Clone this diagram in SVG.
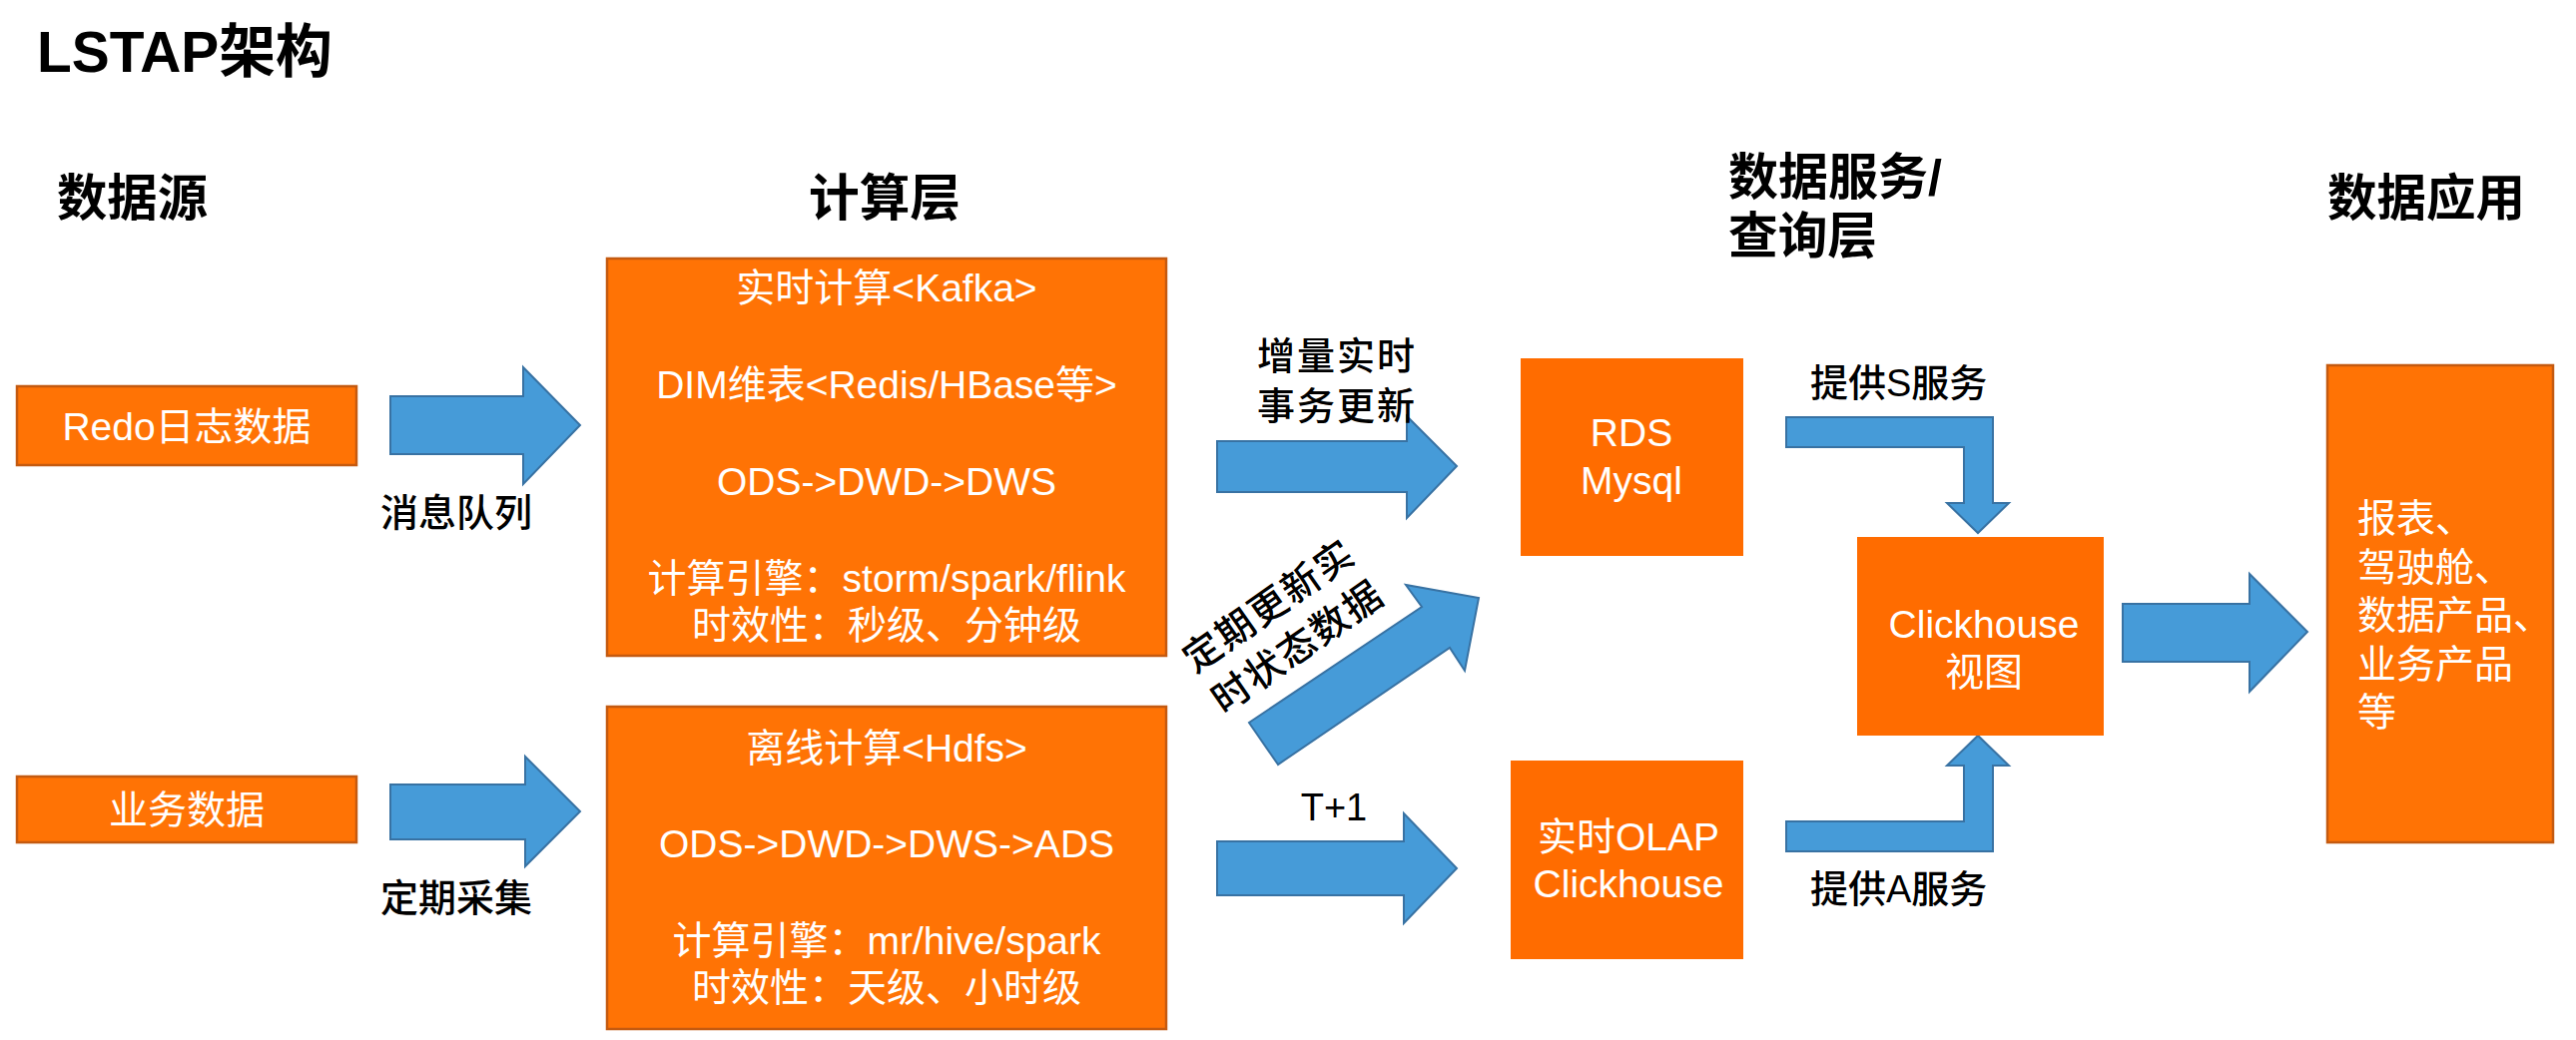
<svg xmlns="http://www.w3.org/2000/svg" width="2580" height="1042" viewBox="0 0 2580 1042">
<style>
.bx{fill:#FF7305;stroke:#C45A10;stroke-width:2.5}
.bx2{fill:#FF6C00}
.ar{fill:#469BD8;stroke:#3872A3;stroke-width:2;stroke-linejoin:miter}
.wt{fill:#fff;font-family:"Liberation Sans","Noto Sans CJK SC",sans-serif;font-size:39px}
.bl{fill:#000;font-family:"Liberation Sans","Noto Sans CJK SC",sans-serif;font-size:38px;font-weight:500}
.hd{fill:#000;font-family:"Liberation Sans","Noto Sans CJK SC",sans-serif;font-size:50px;font-weight:bold}
.c{text-anchor:middle}
</style>
<rect width="2580" height="1042" fill="#fff"/>
<text x="37" y="72" font-family="'Liberation Sans','Noto Sans CJK SC',sans-serif" font-weight="bold" font-size="58" textLength="296" lengthAdjust="spacingAndGlyphs">LSTAP架构</text>
<text class="hd" x="57" y="216" textLength="151" lengthAdjust="spacingAndGlyphs">数据源</text>
<text class="hd" x="810" y="216" textLength="152" lengthAdjust="spacingAndGlyphs">计算层</text>
<text class="hd" x="1731" y="195" textLength="214" lengthAdjust="spacingAndGlyphs">数据服务/</text>
<text class="hd" x="1731" y="254" textLength="149" lengthAdjust="spacingAndGlyphs">查询层</text>
<text class="hd" x="2331" y="216" textLength="198" lengthAdjust="spacingAndGlyphs">数据应用</text>

<g id="connectors">
<polygon class="ar" points="391,397 524,397 524,368 581,426 524,485 524,455 391,455"/>
<polygon class="ar" points="391,786 526,786 526,758 581,813 526,868 526,841 391,841"/>
<polygon class="ar" points="1219,442 1409,442 1409,417 1459,467 1409,519 1409,493 1219,493"/>
<polygon class="ar" points="1219,843 1406,843 1406,815 1459,870 1406,925 1406,897 1219,897"/>
<polygon class="ar" points="1280,766 1251,724 1424,608 1408,586 1481,599 1467,672 1452,649"/>
<polygon class="ar" points="1789,418 1996,418 1996,504 2012,504 1981,534 1950,504 1967,504 1967,448 1789,448"/>
<polygon class="ar" points="1789,853 1996,853 1996,767 2012,767 1981,737 1950,767 1967,767 1967,823 1789,823"/>
<polygon class="ar" points="2126,605 2253,605 2253,575 2311,633 2253,693 2253,663 2126,663"/>
<text class="bl c" x="457" y="527">消息队列</text>
<text class="bl c" x="457" y="913">定期采集</text>
<text class="bl c" x="1338" y="370" textLength="158">增量实时</text>
<text class="bl c" x="1338" y="420" textLength="158">事务更新</text>
<g transform="translate(1285,627) rotate(-35)">
<text class="bl c" x="0" y="-11" letter-spacing="2">定期更新实</text>
<text class="bl c" x="0" y="39" letter-spacing="2">时状态数据</text>
</g>
<text class="bl c" x="1336" y="822" font-size="37">T+1</text>
<text class="bl" x="1813" y="397" font-size="39">提供S服务</text>
<text class="bl" x="1813" y="904" font-size="39">提供A服务</text>
</g>

<g id="redo">
<rect class="bx" x="17" y="387" width="340" height="79"/>
<text class="wt c" x="187" y="441" font-size="38">Redo日志数据</text>
</g>
<g id="biz">
<rect class="bx" x="17" y="778" width="340" height="66"/>
<text class="wt c" x="187" y="825">业务数据</text>
</g>
<g id="realtime">
<rect class="bx" x="608" y="259" width="560" height="398"/>
<text class="wt c" x="888" y="302">实时计算&lt;Kafka&gt;</text>
<text class="wt c" x="888" y="399">DIM维表&lt;Redis/HBase等&gt;</text>
<text class="wt c" x="888" y="496">ODS-&gt;DWD-&gt;DWS</text>
<text class="wt c" x="888" y="593">计算引擎：storm/spark/flink</text>
<text class="wt c" x="888" y="640">时效性：秒级、分钟级</text>
</g>
<g id="offline">
<rect class="bx" x="608" y="708" width="560" height="323"/>
<text class="wt c" x="888" y="763">离线计算&lt;Hdfs&gt;</text>
<text class="wt c" x="888" y="859">ODS-&gt;DWD-&gt;DWS-&gt;ADS</text>
<text class="wt c" x="888" y="956">计算引擎：mr/hive/spark</text>
<text class="wt c" x="888" y="1003">时效性：天级、小时级</text>
</g>
<g id="rds">
<rect class="bx2" x="1523" y="359" width="223" height="198"/>
<text class="wt c" x="1634" y="447" font-size="40">RDS</text>
<text class="wt c" x="1634" y="495" font-size="40">Mysql</text>
</g>
<g id="olap">
<rect class="bx2" x="1513" y="762" width="233" height="199"/>
<text class="wt c" x="1631" y="852" font-size="40">实时OLAP</text>
<text class="wt c" x="1631" y="899" font-size="40">Clickhouse</text>
</g>
<g id="chview">
<rect class="bx2" x="1860" y="538" width="247" height="199"/>
<text class="wt c" x="1987" y="639" font-size="40">Clickhouse</text>
<text class="wt c" x="1987" y="687" font-size="38">视图</text>
</g>
<g id="app">
<rect class="bx" x="2331" y="366" width="226" height="478"/>
<text class="wt" x="2361" y="533" font-size="39">报表、</text>
<text class="wt" x="2361" y="582" font-size="39">驾驶舱、</text>
<text class="wt" x="2361" y="630" font-size="39">数据产品、</text>
<text class="wt" x="2361" y="679" font-size="39">业务产品</text>
<text class="wt" x="2361" y="727" font-size="39">等</text>
</g>
</svg>
